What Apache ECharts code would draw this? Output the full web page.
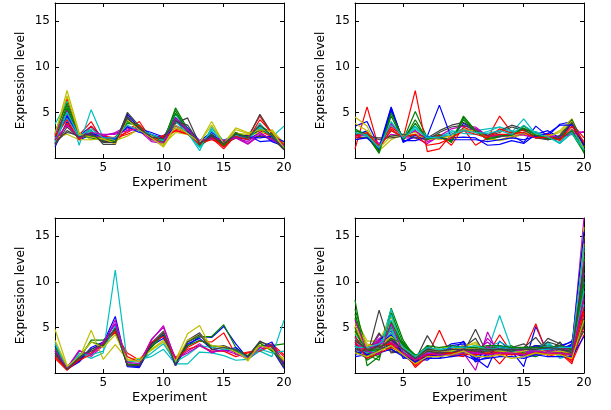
<!DOCTYPE html>
<html>
<head>
<meta charset="utf-8">
<script src="https://cdn.jsdelivr.net/npm/echarts@6/dist/echarts.min.js"></script>
<style>
html, body { margin: 0; padding: 0; background: #fff; }
#main { width: 611px; height: 410px; }
</style>
</head>
<body>
<div id="main"></div>
<script>
// experiment index on x, expression level on y
var experiments = [1,2,3,4,5,6,7,8,9,10,11,12,13,14,15,16,17,18,19,20];
var xTicks = [5, 10, 15, 20];
var yTicks = [5, 10, 15];

// cluster 1 (top left)
var cluster1 = [
  [1.2,4.0,2.0,2.5,2.0,1.8,4.8,3.3,2.5,2.0,4.0,3.0,1.5,2.4,1.5,2.3,2.0,2.8,1.8,1.3],
  [2.0,5.8,2.2,2.8,2.0,2.0,4.2,3.5,2.3,1.8,5.5,3.2,1.6,2.6,1.6,2.8,2.3,3.2,2.4,1.2],
  [2.5,6.5,2.5,4.0,1.8,1.8,3.0,4.0,2.0,2.5,3.2,2.8,1.4,2.2,1.0,2.5,2.3,4.6,2.6,1.1],
  [3.7,6.2,1.4,5.3,2.2,2.2,3.5,3.0,2.5,2.2,4.5,2.8,0.8,3.4,1.8,2.4,2.2,3.8,2.3,3.5],
  [2.2,4.8,2.3,2.5,2.5,2.7,3.2,3.3,2.2,1.5,4.2,3.0,1.8,2.2,1.8,2.2,1.5,2.5,2.0,1.5],
  [2.5,7.4,2.8,2.0,2.2,1.5,4.5,3.0,2.2,1.2,3.3,2.8,1.7,4.0,1.6,3.3,2.8,3.0,3.0,1.0],
  [1.8,2.8,2.5,3.0,1.5,1.5,5.0,3.5,2.5,2.0,3.8,4.4,1.5,2.2,1.5,2.8,2.2,4.8,2.7,1.2],
  [1.5,5.0,2.4,3.5,2.2,2.0,4.3,3.2,2.8,2.3,4.4,3.3,1.9,2.8,1.9,2.4,2.5,1.8,1.9,1.6],
  [2.8,6.0,2.6,2.2,1.9,2.3,3.8,3.6,2.0,2.0,5.2,3.0,1.3,2.3,1.3,2.5,2.2,3.5,2.8,1.0],
  [1.6,3.8,2.1,2.8,2.4,2.2,2.6,3.1,2.3,2.4,3.0,2.7,1.6,2.0,1.5,2.2,2.4,3.0,2.3,1.4],
  [2.0,4.4,2.3,3.0,2.0,2.0,4.0,3.4,2.4,1.9,4.8,3.1,1.2,3.0,1.7,2.6,2.0,3.3,2.5,1.3],
  [2.6,5.3,2.6,2.3,2.4,2.8,3.5,3.0,1.8,1.6,3.6,2.9,1.9,2.1,2.0,2.3,1.6,2.6,2.1,1.7],
  [2.2,2.6,2.0,2.0,2.1,1.9,2.4,3.2,2.4,1.5,2.8,2.6,1.8,2.4,1.7,2.7,2.6,2.7,3.1,1.6],
  [1.4,3.4,2.2,2.6,1.8,1.8,4.6,3.0,2.2,2.2,4.2,3.0,1.6,2.6,1.6,2.2,2.1,2.4,2.2,0.9],
  [2.3,4.6,2.5,2.7,2.3,2.1,3.4,2.8,2.6,2.1,3.5,2.8,1.7,2.5,1.8,2.4,2.3,2.2,2.4,1.8],
  [1.9,5.5,2.3,2.4,2.1,1.8,4.0,3.4,2.1,1.7,4.9,3.1,1.4,2.5,1.4,2.7,2.3,3.1,2.6,1.1],
  [2.4,4.2,2.0,3.5,2.0,2.3,2.8,3.6,2.0,2.2,3.0,2.6,1.5,2.3,1.2,2.4,2.0,4.2,2.8,1.4],
  [1.7,5.0,2.4,3.2,2.2,2.2,3.6,3.0,2.6,2.0,4.0,2.7,1.1,3.2,1.9,2.5,2.2,3.4,2.4,1.2],
  [2.0,3.6,2.2,2.8,2.6,2.6,3.0,3.2,2.0,1.7,4.4,3.1,1.8,2.3,1.9,2.2,1.8,2.8,2.0,1.4],
  [2.7,6.8,2.6,2.3,2.1,1.6,4.2,3.1,2.2,1.3,3.6,2.7,1.7,3.6,1.6,3.1,2.7,3.1,2.9,1.1],
  [1.6,3.0,2.3,2.7,1.7,1.7,4.4,3.2,2.3,2.1,4.0,3.6,1.6,2.4,1.6,2.6,2.2,3.6,2.4,1.0]
];

// cluster 2 (top right)
var cluster2 = [
  [3.5,4.0,1.2,5.6,1.8,2.3,2.2,2.5,2.3,3.8,3.0,2.0,2.4,2.5,1.7,3.5,2.4,3.7,4.0,1.0],
  [2.8,2.5,0.5,5.2,2.0,5.1,2.2,2.4,1.8,4.6,3.0,2.2,2.6,2.4,3.5,2.6,2.0,2.2,2.7,0.6],
  [1.0,5.6,1.0,3.2,2.2,7.4,0.7,1.0,2.6,3.2,1.4,2.2,4.6,2.8,2.6,2.4,2.2,2.0,3.8,2.2],
  [3.0,2.7,1.0,3.6,2.5,3.5,2.0,2.4,2.8,3.2,3.0,3.2,3.4,2.8,4.3,2.6,2.5,1.6,2.8,0.8],
  [2.0,2.3,1.2,3.8,2.2,2.2,1.6,2.4,3.2,3.5,3.4,2.4,2.5,2.3,2.7,2.5,2.7,2.1,2.9,2.8],
  [4.5,3.5,0.8,2.0,2.6,2.8,2.3,2.0,2.2,3.0,3.2,2.2,1.9,2.2,2.6,2.5,2.3,3.0,4.3,1.2],
  [2.2,2.3,2.2,2.2,2.4,2.5,2.2,3.0,3.6,3.9,3.2,2.4,2.8,3.4,3.0,2.4,2.0,2.5,4.2,1.5],
  [2.4,3.0,0.8,5.5,1.7,2.5,2.4,5.8,2.2,2.3,2.2,1.4,1.5,1.9,1.6,2.6,3.0,2.2,3.8,0.8],
  [3.2,2.4,0.6,4.6,1.9,4.2,2.0,2.6,1.7,4.4,3.0,2.0,2.3,2.8,3.2,2.8,2.1,2.0,4.2,0.5],
  [2.2,2.6,1.4,3.4,2.4,3.0,2.0,2.5,1.4,3.4,2.8,2.4,2.6,2.6,3.1,2.3,2.6,1.9,3.2,1.6],
  [2.6,2.4,1.3,3.0,2.3,3.4,2.4,2.2,3.0,2.7,2.6,2.9,3.4,3.0,2.7,2.9,2.3,1.7,3.1,1.0],
  [2.4,2.6,1.6,2.6,2.4,3.0,1.8,2.3,2.4,3.0,3.2,2.5,2.3,2.6,2.5,2.2,2.4,2.3,2.6,2.9],
  [3.8,3.0,1.1,2.4,2.5,2.6,2.0,2.2,2.4,3.1,3.0,2.1,2.0,2.4,2.8,2.6,2.4,2.8,4.0,0.9],
  [2.6,2.6,2.0,2.4,2.6,2.2,2.0,2.8,3.4,3.6,3.0,2.5,3.0,3.6,3.2,2.2,2.0,2.4,3.9,1.3],
  [2.0,2.2,1.0,5.3,1.9,1.9,2.3,2.2,2.0,2.0,2.0,1.8,2.0,2.2,2.0,2.4,2.7,3.6,3.6,1.4],
  [3.0,2.6,0.7,4.9,2.1,3.8,2.1,2.3,1.9,4.2,2.9,2.1,2.4,2.5,3.3,2.5,2.2,2.1,3.0,0.7],
  [2.4,2.8,1.2,3.0,2.3,2.6,1.4,1.6,2.2,3.0,2.6,2.2,3.2,2.7,2.8,2.2,2.3,2.0,3.5,1.8],
  [2.8,2.5,1.1,4.0,2.2,3.2,2.2,2.3,2.6,3.0,2.8,2.7,3.0,2.6,3.6,2.7,2.3,1.6,2.7,0.9]
];

// cluster 3 (bottom left)
var cluster3 = [
  [3.0,0.4,1.2,2.6,3.3,6.2,0.7,0.6,3.0,3.8,0.8,3.0,4.0,3.9,5.1,3.2,1.6,3.0,2.6,0.5],
  [2.2,0.5,1.5,3.6,3.6,4.8,0.9,0.8,2.8,4.2,1.0,3.4,4.0,4.0,5.3,2.8,1.8,3.0,3.0,3.2],
  [1.6,0.3,1.5,2.2,3.4,4.4,2.2,1.4,3.2,4.4,1.7,2.8,3.5,3.4,4.4,2.0,2.3,2.5,3.2,2.0],
  [3.4,0.6,2.2,1.6,2.2,11.3,1.2,1.5,1.8,2.6,1.0,1.0,2.3,2.2,1.9,1.4,1.5,2.4,1.8,5.8],
  [2.6,0.5,2.5,1.8,3.0,5.8,1.0,0.9,3.6,5.2,1.4,2.4,3.2,2.2,2.6,2.3,1.5,2.6,3.0,0.8],
  [4.8,0.8,1.6,4.7,1.5,3.1,1.5,1.6,2.5,3.4,1.4,4.3,5.2,2.6,2.8,2.6,1.3,3.3,2.4,1.6],
  [2.0,0.4,1.6,2.4,3.0,5.0,0.9,0.7,3.3,4.6,0.8,3.6,4.4,2.8,3.0,2.5,1.8,3.5,2.8,0.6],
  [2.4,0.5,1.3,2.8,3.4,5.4,0.8,0.7,3.2,4.1,0.9,3.2,3.8,2.6,2.4,2.8,1.6,2.8,3.4,1.0],
  [2.8,0.6,1.8,3.4,3.0,4.6,1.0,0.9,2.9,4.4,1.2,3.0,3.6,3.0,2.8,2.4,1.9,3.3,2.4,1.2],
  [1.8,0.4,1.4,2.0,3.2,4.6,1.8,1.2,3.4,4.0,1.5,2.6,3.0,2.4,2.4,1.8,2.2,2.4,3.0,1.8],
  [3.2,0.5,2.0,2.0,2.4,5.2,1.3,1.2,2.2,3.2,1.2,2.0,3.0,2.8,2.6,2.6,1.6,2.6,2.2,2.4],
  [2.4,0.6,2.4,2.0,3.4,5.4,1.2,1.0,3.7,5.0,1.5,2.2,3.0,2.3,2.5,2.1,1.6,2.8,3.1,1.2],
  [3.6,0.7,1.8,3.4,2.8,4.2,1.4,1.3,2.6,3.6,1.3,3.6,4.2,3.0,2.9,2.3,1.5,3.0,2.6,1.4],
  [2.2,0.4,1.7,2.6,3.1,4.9,0.8,0.8,3.1,4.4,0.9,3.4,4.2,2.6,2.8,2.6,1.8,3.4,3.0,0.8]
];

// cluster 4 (bottom right)
var cluster4 = [
  [4.0,2.2,3.0,5.1,2.4,1.4,2.0,1.8,2.4,3.5,1.6,0.6,3.5,2.4,0.7,5.1,2.2,2.8,3.5,9.0],
  [8.0,0.8,1.8,7.1,3.6,1.6,2.8,2.2,2.6,2.4,2.2,2.6,2.8,2.6,2.2,2.4,2.6,2.2,2.0,12.0],
  [5.0,2.8,3.5,3.8,2.5,0.6,1.8,4.7,1.8,2.0,2.4,2.0,4.2,2.2,2.4,5.4,1.8,2.2,1.0,6.5],
  [3.5,2.4,2.6,7.0,2.2,1.4,2.5,2.0,2.4,2.6,1.8,2.4,6.3,2.6,2.6,2.6,3.4,2.0,2.4,11.0],
  [3.0,2.0,4.2,3.6,2.6,1.2,2.4,2.2,2.8,2.2,0.3,4.5,1.8,2.8,2.0,2.0,2.4,2.8,2.6,17.0],
  [6.0,3.5,3.5,6.2,2.2,1.8,2.2,2.6,2.4,2.8,3.4,2.2,2.6,2.4,2.5,2.6,2.2,2.6,2.2,15.0],
  [3.2,1.8,6.9,2.6,2.0,1.4,4.1,2.0,2.0,2.2,4.8,2.0,2.4,2.2,2.8,3.9,2.2,3.4,1.8,8.0],
  [2.0,2.6,2.4,3.2,3.0,1.6,1.4,2.4,3.2,3.4,1.4,2.6,2.2,2.0,2.2,2.4,2.8,3.0,3.4,10.0],
  [7.0,2.6,2.0,4.0,3.4,1.8,2.0,2.4,2.0,2.2,2.6,2.8,2.4,3.0,2.0,1.8,2.4,2.6,2.2,14.0],
  [4.5,3.0,3.2,3.0,2.0,1.0,2.2,2.0,2.2,2.6,2.0,2.4,1.0,2.6,2.6,3.0,2.0,2.4,1.2,4.2],
  [2.6,2.0,3.0,5.8,2.4,1.6,2.8,2.6,2.2,2.0,2.2,2.2,2.8,2.4,2.2,2.2,3.0,1.6,2.0,7.5],
  [3.8,2.4,3.8,4.2,2.8,1.2,2.0,1.8,2.6,2.4,2.4,3.4,2.2,2.6,1.8,2.4,2.6,3.0,2.8,13.0],
  [5.5,3.2,2.6,5.5,2.6,1.6,2.4,2.8,2.8,2.6,3.0,2.6,2.0,2.2,2.4,2.8,2.0,2.4,2.0,16.0],
  [2.8,2.2,4.4,2.2,2.4,1.2,3.0,2.2,1.8,2.8,3.8,1.6,2.6,2.8,3.2,2.2,3.8,3.2,2.0,5.5],
  [2.4,1.8,3.6,4.6,1.6,1.8,1.6,1.6,2.6,3.0,1.2,1.8,3.0,2.4,2.6,2.6,2.4,2.6,3.0,8.5],
  [6.5,2.0,1.4,6.6,3.2,2.0,2.2,2.6,2.4,2.6,2.8,2.4,2.6,2.2,2.4,2.2,2.2,2.4,2.4,11.5],
  [3.6,2.6,2.8,3.4,2.2,0.8,2.0,2.2,2.0,1.8,2.6,2.2,2.4,2.0,2.2,2.6,2.2,2.0,1.4,5.0],
  [4.2,2.8,2.4,6.4,2.6,1.6,2.6,2.4,2.6,2.4,2.0,2.8,3.4,2.8,2.4,2.4,3.2,1.8,2.2,10.0],
  [2.6,2.2,3.6,3.2,2.4,1.4,2.2,2.0,2.4,2.6,1.8,3.8,2.4,2.4,2.2,2.2,2.8,2.6,2.4,14.5],
  [4.8,3.0,3.0,4.8,2.4,1.6,2.6,2.4,2.6,3.0,3.2,2.4,2.2,2.6,2.2,2.4,2.4,2.8,2.2,12.5],
  [3.0,2.0,3.2,3.0,2.2,1.2,2.6,2.4,2.2,2.4,2.2,2.4,2.8,2.6,2.6,3.0,3.0,2.8,2.0,6.0],
  [2.2,2.4,2.8,3.8,2.2,1.4,1.8,2.0,3.0,3.2,2.0,2.2,2.6,2.2,1.8,2.8,2.6,2.4,3.2,7.0],
  [5.0,1.4,2.2,5.0,3.0,1.8,2.4,2.2,2.2,2.4,2.4,2.6,2.2,2.8,2.2,2.0,2.6,2.8,2.6,12.8],
  [3.2,2.4,3.4,3.6,2.4,1.0,1.6,2.6,2.4,2.2,2.2,2.6,2.6,2.4,2.0,2.8,2.4,2.2,1.6,8.8],
  [3.8,2.6,2.2,5.2,2.0,1.8,2.4,2.2,2.6,2.2,2.4,2.6,3.0,2.6,2.6,2.6,3.4,2.2,2.6,9.5],
  [3.4,2.0,3.4,3.8,2.8,1.6,2.2,2.4,2.2,2.8,2.0,3.0,2.2,2.2,2.4,2.0,2.6,2.8,2.6,11.0],
  [4.4,2.8,2.4,4.4,2.6,1.4,2.6,2.6,2.4,2.6,2.8,2.2,2.4,2.4,2.6,2.6,2.2,2.6,2.4,13.5],
  [2.4,1.6,2.6,2.8,2.6,1.6,2.8,2.0,2.4,2.2,2.6,2.0,2.4,2.4,2.4,2.4,3.4,3.0,2.2,4.6],
  [3.0,2.0,3.2,4.2,2.0,1.2,2.0,1.8,2.8,2.8,1.6,2.0,2.8,2.6,2.4,3.0,2.6,2.8,3.0,15.5],
  [6.0,2.2,1.8,5.6,3.0,1.6,2.6,2.4,2.6,2.4,2.6,2.8,2.8,2.4,2.6,2.2,2.4,2.2,2.6,10.5],
  [4.0,2.2,3.0,3.2,2.0,0.9,2.4,2.2,2.2,2.4,2.4,2.4,2.2,2.2,2.4,2.4,2.0,2.6,1.8,7.2],
  [3.0,2.2,2.8,4.8,2.4,1.6,2.2,2.6,2.4,2.6,2.6,2.4,2.6,2.4,2.4,2.4,3.0,2.4,2.4,9.0],
  [3.2,2.6,3.2,3.4,2.6,1.4,2.4,2.2,2.6,2.4,2.2,2.8,2.6,2.6,2.4,2.4,2.4,2.4,2.8,12.2],
  [5.2,2.6,2.8,4.0,2.8,1.8,2.4,2.4,2.4,2.8,2.6,2.6,2.4,2.2,2.4,2.8,2.2,2.4,2.2,14.2],
  [2.6,2.4,3.0,2.4,2.2,1.4,2.4,2.2,2.2,2.6,2.4,2.4,2.6,2.4,2.8,2.6,2.8,2.6,2.2,5.2],
  [1.8,2.0,2.2,2.6,1.8,1.2,1.6,1.6,1.8,2.0,1.4,1.6,1.8,1.8,1.6,2.0,1.8,1.8,1.8,4.0],
  [4.6,2.4,2.6,3.8,3.2,1.8,3.0,2.8,3.0,2.8,2.8,3.0,3.0,2.8,2.8,2.8,2.8,3.0,2.6,9.8],
  [3.4,1.6,2.2,2.8,2.2,1.4,2.0,2.0,2.2,2.0,2.0,2.2,2.0,2.0,2.0,2.2,2.0,2.2,2.0,6.8],
  [2.8,2.8,3.2,4.4,2.8,1.8,2.8,2.6,2.8,2.8,3.0,2.6,2.8,2.6,2.6,2.6,2.6,2.8,2.8,13.8],
  [5.8,2.4,2.0,5.4,2.2,1.4,2.2,2.0,2.0,2.2,2.2,2.0,2.2,2.2,2.0,2.4,2.2,2.2,2.0,8.2],
  [2.2,1.8,2.4,3.0,2.0,1.0,1.8,1.8,2.0,2.4,1.8,1.8,2.0,1.6,1.8,2.2,2.0,2.0,1.6,5.8],
  [3.6,2.6,2.8,3.6,2.6,1.6,2.6,2.4,2.6,2.6,2.6,2.6,2.6,2.6,2.6,2.6,2.8,2.6,2.4,11.8]
];

var clusters = [cluster1, cluster2, cluster3, cluster4];

// matlab default line colour order
var colorOrder = ['#0000ff', '#008000', '#ff0000', '#00bfbf', '#bf00bf', '#bfbf00', '#404040'];

var myChart = echarts.init(document.getElementById('main'), null, {renderer: 'canvas'});

var font = 'DejaVu Sans';
var boxes = [
  {left: 55, top: 3},
  {left: 355, top: 3},
  {left: 55, top: 218},
  {left: 355, top: 218}
];

var grid = [], xAxis = [], yAxis = [], series = [];

function axisLine() {
  return {show: true, onZero: false, lineStyle: {color: '#000', width: 1}};
}

for (var g = 0; g < 4; g++) {
  grid.push({left: boxes[g].left, top: boxes[g].top, width: 229, height: 155, containLabel: false});

  // bottom / left axes with labels
  xAxis.push({
    gridIndex: g, type: 'value', min: 1, max: 20, position: 'bottom',
    axisLine: axisLine(),
    axisTick: {show: true, inside: true, length: 4, customValues: xTicks, lineStyle: {color: '#000'}},
    axisLabel: {customValues: xTicks, color: '#000', fontFamily: font, fontSize: 12, margin: 4},
    splitLine: {show: false},
    name: 'Experiment', nameLocation: 'middle', nameGap: 18,
    nameTextStyle: {color: '#000', fontFamily: font, fontSize: 13}
  });
  yAxis.push({
    gridIndex: g, type: 'value', min: 0, max: 17, position: 'left',
    axisLine: axisLine(),
    axisTick: {show: true, inside: true, length: 4, customValues: yTicks, lineStyle: {color: '#000'}},
    axisLabel: {customValues: yTicks, color: '#000', fontFamily: font, fontSize: 12, margin: 5},
    splitLine: {show: false},
    name: 'Expression level', nameLocation: 'middle', nameGap: 28, nameRotate: 90,
    nameTextStyle: {color: '#000', fontFamily: font, fontSize: 12}
  });
  // top / right axes to close the box
  xAxis.push({
    gridIndex: g, type: 'value', min: 1, max: 20, position: 'top',
    axisLine: axisLine(),
    axisTick: {show: true, inside: true, length: 4, customValues: xTicks, lineStyle: {color: '#000'}},
    axisLabel: {show: false}, splitLine: {show: false}
  });
  yAxis.push({
    gridIndex: g, type: 'value', min: 0, max: 17, position: 'right',
    axisLine: axisLine(),
    axisTick: {show: true, inside: true, length: 4, customValues: yTicks, lineStyle: {color: '#000'}},
    axisLabel: {show: false}, splitLine: {show: false}
  });

  var lines = clusters[g];
  for (var i = 0; i < lines.length; i++) {
    series.push({
      type: 'line',
      xAxisIndex: g * 2,
      yAxisIndex: g * 2,
      data: experiments.map(function(x, k) { return [x, this[k]]; }, lines[i]),
      symbol: 'none',
      silent: true,
      animation: false,
      lineStyle: {width: 1.2, color: colorOrder[i % colorOrder.length]},
      itemStyle: {color: colorOrder[i % colorOrder.length]}
    });
  }
}

var option = {
  backgroundColor: '#fff',
  animation: false,
  grid: grid,
  xAxis: xAxis,
  yAxis: yAxis,
  series: series
};

myChart.setOption(option);
</script>
</body>
</html>
